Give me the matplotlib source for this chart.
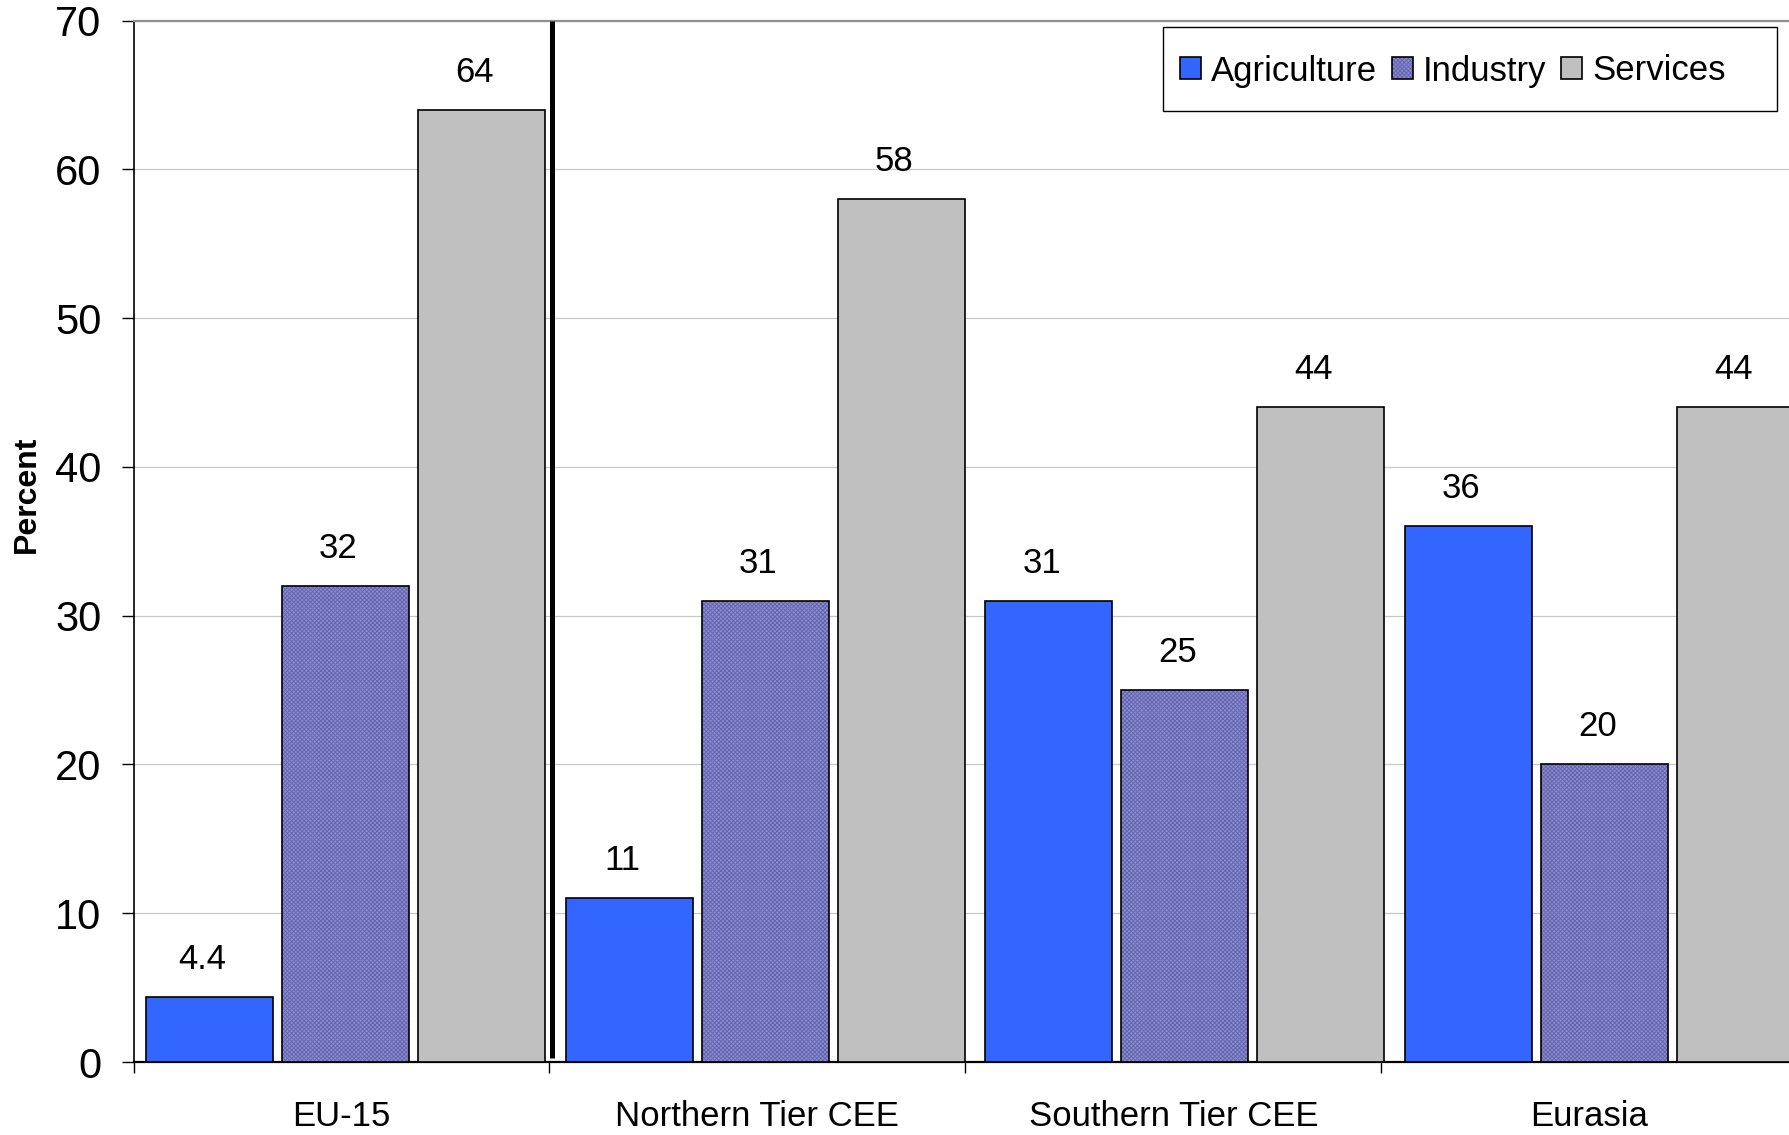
import matplotlib

matplotlib.use("Agg")
import matplotlib.pyplot as plt
import numpy as np
from matplotlib.patches import Patch, Rectangle

# sector shares of employment, percent
regions = ["EU-15", "Northern Tier CEE", "Southern Tier CEE", "Eurasia"]
sectors = ["Agriculture", "Industry", "Services"]
agriculture = [4.4, 11, 31, 36]
industry = [32, 31, 25, 20]
services = [64, 58, 44, 44]

plt.rcParams["font.family"] = ["Liberation Sans", "DejaVu Sans"]
plt.rcParams["hatch.linewidth"] = 0.6

BLUE = "#3366ff"
PURPLE = "#8a8ad6"
PURPLE_DOT = "#6464a8"
GREY = "#c0c0c0"

fig = plt.figure(figsize=(17.9, 11.35), dpi=100)
ax = fig.add_axes([0.0746, 0.0643, 0.9294, 0.9176])

x = np.arange(len(regions))
width = 0.305
pitch = 0.327
group_start = 0.03 + 1.009 * x
series = [agriculture, industry, services]

for k, (vals, sec) in enumerate(zip(series, sectors)):
    left = group_start + k * pitch
    if sec == "Industry":
        ax.bar(left, vals, width, align="edge", color=PURPLE, edgecolor=PURPLE_DOT,
               hatch="xxxxxxxx", linewidth=0, zorder=3)
        ax.bar(left, vals, width, align="edge", fill=False, edgecolor="black",
               linewidth=1.2, zorder=4)
    else:
        fc = BLUE if sec == "Agriculture" else GREY
        ax.bar(left, vals, width, align="edge", color=fc, edgecolor="black",
               linewidth=1.2, zorder=3)
    for xp, v in zip(left + width / 2, vals):
        ax.annotate(f"{v:g}", xy=(xp, v), xytext=(-5, 27), textcoords="offset points",
                    ha="center", va="center", fontsize=25)

# separator between EU-15 and the transition regions
ax.plot([1.006, 1.006], [0.3, 70], color="black", lw=3.6, zorder=5, solid_capstyle="butt")

ax.set_xlim(0, 4)
ax.set_ylim(0, 70)
ax.set_yticks(range(0, 71, 10))
ax.yaxis.grid(True, color="#c8c8c8", lw=0.9, zorder=0)
ax.set_axisbelow(True)
ax.tick_params(axis="y", direction="out", length=9, width=1, pad=14, labelsize=30)

ax.set_xticks(x + 0.5)
ax.set_xticklabels(regions, fontsize=25)
ax.set_xticks(np.arange(0, 5), minor=True)
ax.tick_params(axis="x", which="major", length=0, pad=27)
ax.tick_params(axis="x", which="minor", length=8, width=1, direction="out")

ax.spines["right"].set_visible(False)
ax.spines["top"].set_color("#909090")
ax.spines["top"].set_linewidth(1.6)
ax.spines["left"].set_linewidth(1.2)
ax.spines["bottom"].set_linewidth(1.6)

fig.text(27 / 1790, 1 - 494 / 1135, "Percent", rotation=90, fontsize=23,
         fontweight="bold", ha="center", va="center")

# legend box drawn separately so its padding can be set independently
fig.add_artist(Rectangle((1163 / 1790, 1 - 111 / 1135), 614 / 1790, 84 / 1135,
                         transform=fig.transFigure, facecolor="white",
                         edgecolor="black", linewidth=1.0, zorder=10))
handles = [
    Patch(facecolor=BLUE, edgecolor="black", linewidth=1.2),
    (Patch(facecolor=PURPLE, edgecolor=PURPLE_DOT, hatch="xxxxxxxx", linewidth=0),
     Patch(fill=False, edgecolor="black", linewidth=1.2)),
    Patch(facecolor=GREY, edgecolor="black", linewidth=1.2),
]
leg = fig.legend(handles, sectors, loc="center left",
                 bbox_to_anchor=(1180 / 1790, 1 - 71 / 1135), ncol=3, fontsize=25,
                 frameon=False, borderpad=0, borderaxespad=0,
                 handlelength=0.6, handleheight=0.6, handletextpad=0.3,
                 columnspacing=0.42)
leg.set_zorder(11)

fig.savefig("out.png", dpi=100, facecolor="white")
